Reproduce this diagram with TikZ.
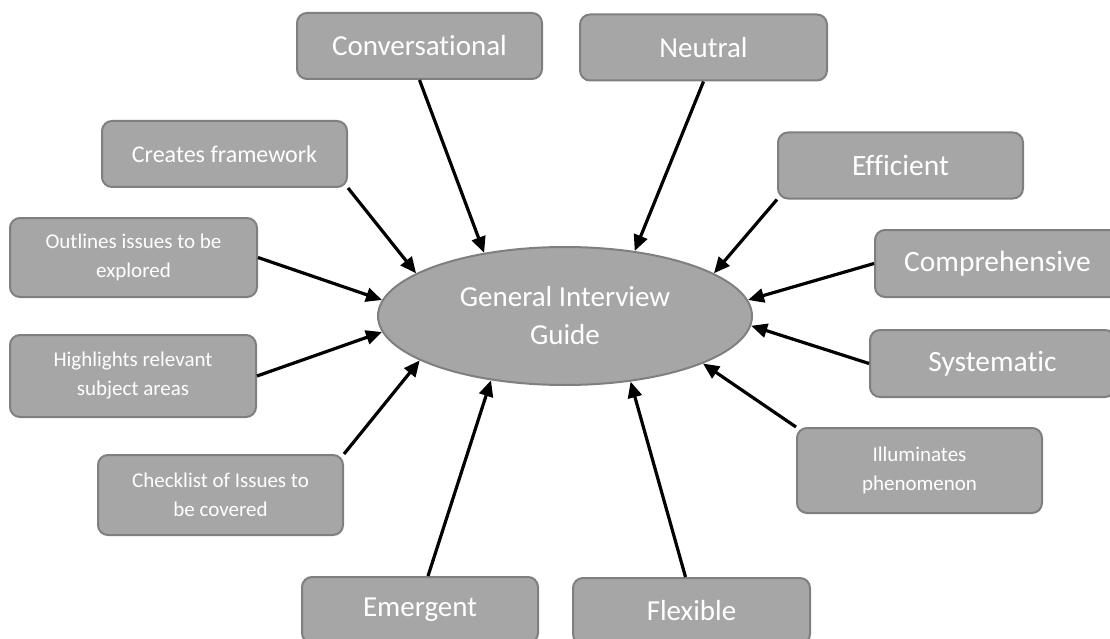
\documentclass[tikz,border=0pt]{standalone}
\usepackage{fontspec}
\setmainfont{Carlito}[Ligatures=NoCommon]
\usetikzlibrary{arrows.meta,shapes.geometric}
\definecolor{boxfill}{HTML}{A6A6A6}
\definecolor{boxline}{HTML}{7F7F7F}
\begin{document}
\begin{tikzpicture}[x=1pt,y=-1pt,
  card/.style={rectangle, rounded corners=10pt, fill=boxfill, draw=boxline,
    line width=2pt, text=white, align=center, inner sep=0pt,
    minimum width=245pt, minimum height=66pt},
  big/.style={font=\fontsize{29}{34}\selectfont},
  mid/.style={font=\fontsize{24}{30}\selectfont},
  small/.style={font=\fontsize{21}{29}\selectfont},
  feed/.style={line width=3.2pt, -{Triangle[length=16pt,width=14pt]}}]
\useasboundingbox (0,0) rectangle (1110,639);
\clip (0,0) rectangle (1110,639);

% central topic
\node[ellipse, fill=boxfill, draw=boxline, line width=2pt, text=white,
  align=center, inner sep=0pt, minimum width=374pt, minimum height=138pt,
  font=\fontsize{29}{38}\selectfont] (guide) at (565,316)
  {General Interview\\Guide};

% surrounding attributes
\node[card, big] (conv) at (419.5,46) {Conversational};
\node[card, big, minimum width=247pt] (neut) at (703.5,47.5) {Neutral};
\node[card, mid] (crea) at (224.5,154) {Creates framework};
\node[card, big, font=\fontsize{29.5}{34}\selectfont] (effi) at (900.5,165.5) {Efficient};
\node[card, small, minimum width=247pt, minimum height=79pt] (outl) at (133.5,257.5)
  {Outlines issues to be\\explored};
\node[card, small, minimum width=246pt, minimum height=82pt] (high) at (133,376)
  {Highlights relevant\\subject areas};
\node[card, big, font=\fontsize{29.5}{34}\selectfont, minimum height=67pt] (comp) at (997.5,263.5) {Comprehensive};
\node[card, big, font=\fontsize{29.5}{34}\selectfont, minimum height=67pt] (syst) at (992.5,363.5) {Systematic};
\node[card, small, minimum height=80pt] (chk) at (220.5,495)
  {Checklist of Issues to\\be covered};
\node[card, small, minimum height=85pt] (illu) at (919.5,470.5)
  {Illuminates\\phenomenon};
\node[card, big, minimum width=236pt] (emer) at (420,610) {Emergent};
\node[card, big, minimum width=237pt] (flex) at (691.5,611) {Flexible};

% connectors into the guide
\draw[feed] (conv.south) -- (guide.142);
\draw[feed] (neut.south) -- (guide.43);
\draw[feed] (crea.south east) -- (guide.164);
\draw[feed] (effi.south west) -- (guide.16);
\draw[feed] (outl.east) -- (guide.175);
\draw[feed] (comp.west) -- (guide.5.5);
\draw[feed] (high.east) -- (guide.185);
\draw[feed] (syst.west) -- (guide.-3);
\draw[feed] (chk.north east) -- (guide.197);
\draw[feed] (illu.north west) -- (guide.-19);
\draw[feed] ([xshift=8pt]emer.north) -- (guide.221);
\draw[feed] ([xshift=-6pt]flex.north) -- (guide.-45);
\end{tikzpicture}
\end{document}
